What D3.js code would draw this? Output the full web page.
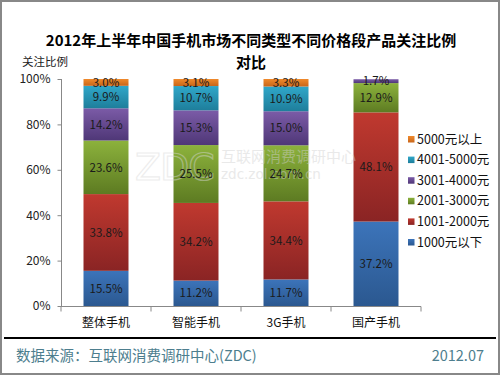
<!DOCTYPE html>
<html><head><meta charset="utf-8">
<script src="https://cdn.jsdelivr.net/npm/d3@7"></script>
<style>body{margin:0;background:#fff}svg{display:block}</style>
</head><body>
<svg id="c" width="500" height="375"></svg>
<script>
const categories = ["整体手机","智能手机","3G手机","国产手机"];
const seriesNames = ["1000元以下","1001-2000元","2001-3000元","3001-4000元","4001-5000元","5000元以上"];
const s1000 = [15.5, 11.2, 11.7, 37.2];
const s2000 = [33.8, 34.2, 34.4, 48.1];
const s3000 = [23.6, 25.5, 24.7, 12.9];
const s4000 = [14.2, 15.3, 15.0, 1.7];
const s5000 = [9.9, 10.7, 10.9, 0];
const s5000p = [3.0, 3.1, 3.3, 0];
const yTicks = [0, 20, 40, 60, 80, 100];
const colorsTop = ["#3c74ba","#c0392f","#8cb23c","#7b5ba7","#30a7c9","#f08a2c"];
const colorsBot = ["#2b5890","#8a2424","#5d7b22","#4f3777","#1e7e9b","#c9661a"];

const seriesVals = [s1000, s2000, s3000, s4000, s5000, s5000p];
const rows = categories.map((c, i) => {
  const r = {cat: c};
  seriesNames.forEach((s, j) => r[s] = seriesVals[j][i]);
  return r;
});
const stack = d3.stack().keys(seriesNames)(rows);

const svg = d3.select("#c");
const font = "'Noto Sans CJK SC', 'Noto Sans', sans-serif";

// border
svg.append("rect").attr("x",1).attr("y",1).attr("width",498).attr("height",373)
  .attr("fill","#fff").attr("stroke","#888").attr("stroke-width",2);

const defs = svg.append("defs");
seriesNames.forEach((s, j) => {
  const g = defs.append("linearGradient").attr("id","g"+j).attr("x1",0).attr("y1",0).attr("x2",0).attr("y2",1);
  g.append("stop").attr("offset","0%").attr("stop-color",colorsTop[j]);
  g.append("stop").attr("offset","100%").attr("stop-color",colorsBot[j]);
});

const x = d3.scaleBand().domain(categories).range([61, 421]).paddingInner(0.5).paddingOuter(0.25);
const y = d3.scaleLinear().domain([0, 100]).range([306, 79]);

// title
svg.append("text").attr("x",251).attr("y",46).attr("text-anchor","middle")
  .attr("font-family",font).attr("font-weight","bold").attr("font-size",15).attr("fill","#000")
  .text("2012年上半年中国手机市场不同类型不同价格段产品关注比例");
svg.append("text").attr("x",251).attr("y",68).attr("text-anchor","middle")
  .attr("font-family",font).attr("font-weight","bold").attr("font-size",15).attr("fill","#000")
  .text("对比");
svg.append("text").attr("x",22).attr("y",66)
  .attr("font-family",font).attr("font-size",11.5).attr("fill","#222").text("关注比例");

// y axis
const yAxis = d3.axisLeft(y).tickValues(yTicks).tickFormat(d => d + "%").tickSize(4).tickPadding(7);
const ga = svg.append("g").attr("transform","translate(61.5,0)").call(yAxis);
ga.select(".domain").attr("stroke","#888").attr("d","M0,79V306");
ga.selectAll(".tick line").attr("stroke","#888");
ga.selectAll("text").attr("font-family",font).attr("font-size",12).attr("fill","#222");

// x axis
const gx = svg.append("g").attr("transform","translate(0,306.5)");
gx.append("line").attr("x1",61).attr("x2",421).attr("stroke","#888");
const boundaryIdx = d3.range(categories.length + 1);
gx.selectAll(".bt").data(boundaryIdx).join("line")
  .attr("x1", i => x.range()[0] + i * x.step()).attr("x2", i => x.range()[0] + i * x.step())
  .attr("y1",0).attr("y2",5).attr("stroke","#888");
svg.selectAll(".xl").data(categories).join("text")
  .attr("x", d => x(d) + x.bandwidth()/2).attr("y", 327).attr("text-anchor","middle")
  .attr("font-family",font).attr("font-size",12).attr("fill","#111").text(d => d);

// bars
stack.forEach((layer, j) => {
  svg.append("g").selectAll("rect").data(layer.filter(d => d[1] - d[0] > 0)).join("rect")
    .attr("x", d => x(d.data.cat)).attr("width", x.bandwidth())
    .attr("y", d => y(d[1])).attr("height", d => y(d[0]) - y(d[1]))
    .attr("fill", "url(#g" + j + ")");
});

// watermark
const wm = svg.append("g").attr("opacity",0.45).attr("pointer-events","none");
wm.append("text").attr("x",135).attr("y",180).attr("font-family","'DejaVu Sans', sans-serif")
  .attr("font-size",38).attr("fill","none").attr("stroke","#d8d8d8").attr("stroke-width",1.2).attr("letter-spacing",-1)
  .text("ZDC");
wm.append("text").attr("x",221).attr("y",162).attr("font-family",font).attr("font-size",15)
  .attr("fill","#d0d0d0").text("互联网消费调研中心");
wm.append("text").attr("x",221).attr("y",179).attr("font-family","'DejaVu Sans', sans-serif").attr("font-size",13.5)
  .attr("fill","#d0d0d0").text("zdc.zol.com.cn");

// value labels
stack.forEach((layer, j) => {
  svg.append("g").selectAll("text").data(layer.filter(d => d[1] - d[0] > 0)).join("text")
    .attr("x", d => x(d.data.cat) + x.bandwidth()/2)
    .attr("y", d => (y(d[0]) + y(d[1]))/2 + 4.2)
    .attr("text-anchor","middle").attr("font-family",font).attr("font-size",11.5).attr("fill","#1a1a1a")
    .text(d => (d[1]-d[0]).toFixed(1) + "%");
});

// legend
const legendOrder = seriesNames.map((s,j)=>j).reverse();
const lg = svg.append("g");
legendOrder.forEach((j, k) => {
  const yy = 139 + k * 20.6;
  lg.append("rect").attr("x",408).attr("y",yy-3).attr("width",6.5).attr("height",6.5).attr("fill","url(#g"+j+")");
  lg.append("text").attr("x",417).attr("y",yy+4.5).attr("font-family",font).attr("font-size",12.5)
    .attr("fill","#111").text(seriesNames[j]);
});

// footer
svg.append("line").attr("x1",4).attr("x2",496).attr("y1",338).attr("y2",338).attr("stroke","#000").attr("stroke-width",2);
svg.append("text").attr("x",16).attr("y",361).attr("font-family",font).attr("font-size",14.5)
  .attr("fill","#4d7e8e").text("数据来源：互联网消费调研中心(ZDC)");
svg.append("text").attr("x",484).attr("y",361).attr("text-anchor","end").attr("font-family",font).attr("font-size",14.5)
  .attr("fill","#4d7e8e").text("2012.07");
</script>
</body></html>
